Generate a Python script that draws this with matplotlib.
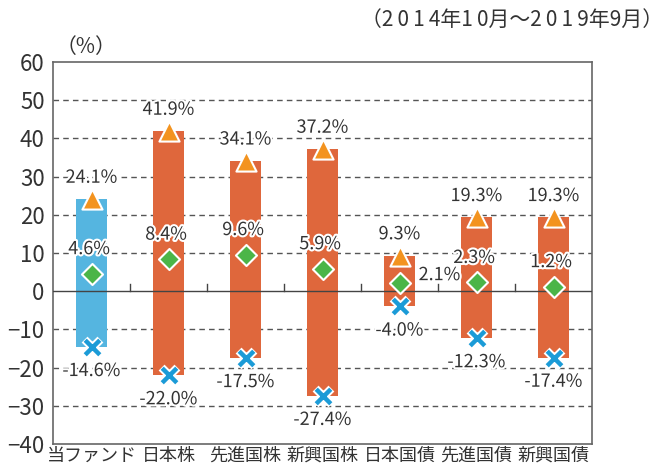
import matplotlib.pyplot as plt
import matplotlib.patheffects as pe
import numpy as np

plt.rcParams['font.family'] = ['Noto Sans CJK JP', 'DejaVu Sans']

# データ
categories = ["当ファンド", "日本株", "先進国株", "新興国株", "日本国債", "先進国債", "新興国債"]
max_vals = [24.1, 41.9, 34.1, 37.2, 9.3, 19.3, 19.3]
mean_vals = [4.6, 8.4, 9.6, 5.9, 2.1, 2.3, 1.2]
min_vals = [-14.6, -22.0, -17.5, -27.4, -4.0, -12.3, -17.4]

x = np.arange(len(categories))
bar_colors = ["#55b5e0"] + ["#df673c"] * 6

fig = plt.figure(figsize=(6.65, 4.72), dpi=100)
ax = fig.add_axes([53 / 665, 1 - 444 / 472, 539 / 665, 382 / 472])

ax.bar(x, np.array(max_vals) - np.array(min_vals), bottom=min_vals,
       width=0.4, color=bar_colors, zorder=2)

# マーカー
ax.scatter(x, max_vals, marker="^", s=210, color="#f3931f", edgecolor="white", linewidth=1.5, zorder=4)
ax.scatter(x, mean_vals, marker="D", s=115, color="#4bb548", edgecolor="white", linewidth=1.5, zorder=4)
ax.scatter(x, min_vals, marker="x", s=130, color="white", linewidth=6, zorder=4)
ax.scatter(x, min_vals, marker="x", s=110, color="#1b9bd7", linewidth=3.2, zorder=5)

# ラベル
stroke = [pe.withStroke(linewidth=3, foreground="white")]
fs = 13
for i in range(len(categories)):
    ax.text(x[i], max_vals[i] + 5.6, f"{max_vals[i]:.1f}%", ha="center", va="center",
            fontsize=fs, color="#333333", path_effects=stroke, zorder=6)
    if categories[i] == "日本国債":
        ax.text(x[i] + 0.52, mean_vals[i] + 2.1, f"{mean_vals[i]:.1f}%", ha="center", va="center",
                fontsize=fs, color="#333333", path_effects=stroke, zorder=6)
    else:
        ax.text(x[i] - 0.03, mean_vals[i] + 6.4, f"{mean_vals[i]:.1f}%", ha="center", va="center",
                fontsize=fs, color="#333333", path_effects=stroke, zorder=6)
    ax.text(x[i], min_vals[i] - 6.3, f"{min_vals[i]:.1f}%", ha="center", va="center",
            fontsize=fs, color="#333333", path_effects=stroke, zorder=6)

ax.set_xlim(-0.5, len(categories) - 0.5)
ax.set_ylim(-40, 60)
ax.set_yticks(range(-40, 61, 10))
ax.tick_params(axis="y", labelsize=16, labelcolor="#333333", length=0, pad=6)
ax.set_xticks(x)
ax.set_xticklabels(categories, fontsize=13, color="#333333")
ax.tick_params(axis="x", length=0, pad=2)

for yv in [-30, -20, -10, 10, 20, 30, 40, 50]:
    ax.axhline(yv, color="#555555", linestyle=(0, (4, 3)), linewidth=1, zorder=1)
ax.axhline(0, color="#444444", linewidth=1, zorder=3)
for b in np.arange(0.5, len(categories) - 1, 1):
    ax.plot([b, b], [0, 1.8], color="#444444", linewidth=1, zorder=3)

for s in ax.spines.values():
    s.set_color("#666666")
    s.set_linewidth(1.2)

fig.text(56 / 665, 1 - 47 / 472, "（%）", fontsize=15, color="#333333", va="center", ha="left")
title = "（2\u20090\u20091\u20094年1\u20090月～2\u20090\u20091\u20099年9月）"
fig.text(663 / 665, 1 - 20 / 472, title, fontsize=15, color="#333333",
         va="center", ha="right")

fig.savefig("out.png", dpi=100)
